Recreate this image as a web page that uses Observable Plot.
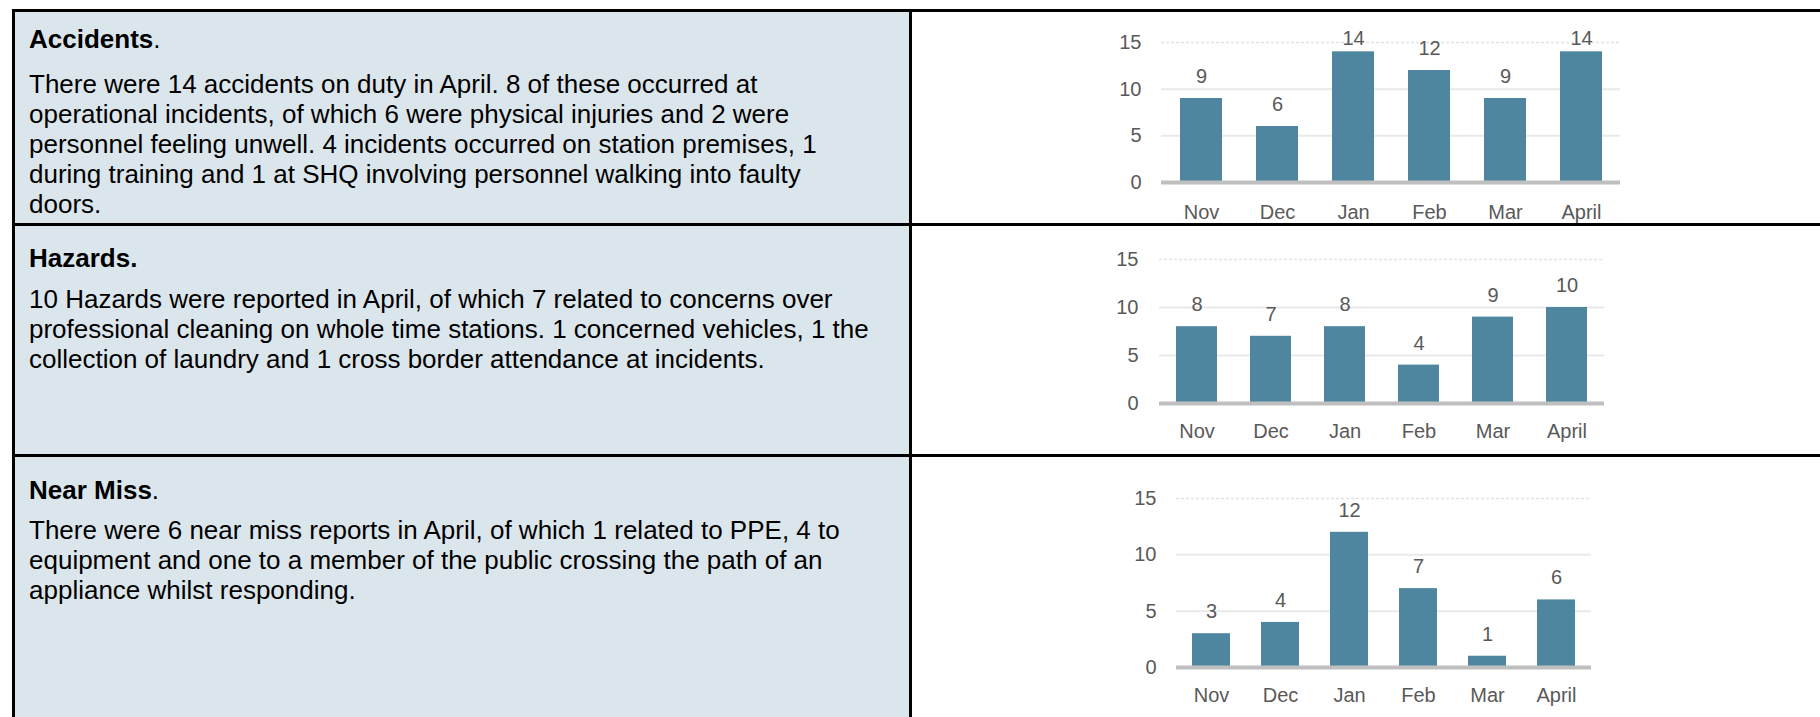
<!DOCTYPE html>
<html>
<head>
<meta charset="utf-8">
<script src="https://cdn.jsdelivr.net/npm/d3@7"></script>
<script src="https://cdn.jsdelivr.net/npm/@observablehq/plot@0.6"></script>
<style>
  html, body { margin:0; padding:0; background:#fff; width:1820px; height:717px; overflow:hidden;
    font-family:"Liberation Sans", Arial, sans-serif; }
  .cell { position:absolute; background:#dbe6ec; }
  .rule { position:absolute; background:#000; }
  .txt { position:absolute; left:29px; font-size:26px; line-height:30px; color:#000; white-space:nowrap; }
  .chart { position:absolute; }
</style>
</head>
<body>
<div id="root"></div>
<script>
// ---- data ----
const months = ["Nov", "Dec", "Jan", "Feb", "Mar", "April"];
const accidents = [9, 6, 14, 12, 9, 14];
const hazards = [8, 7, 8, 4, 9, 10];
const nearMiss = [3, 4, 12, 7, 1, 6];
const yTicks = [0, 5, 10, 15];

const headingBold = ["Accidents", "Hazards.", "Near Miss"];
const headingTail = [".", "", "."];
const accidentsText = [
  "There were 14 accidents on duty in April. 8 of these occurred at",
  "operational incidents, of which 6 were physical injuries and 2 were",
  "personnel feeling unwell. 4 incidents occurred on station premises, 1",
  "during training and 1 at SHQ involving personnel walking into faulty",
  "doors."
];
const hazardsText = [
  "10 Hazards were reported in April, of which 7 related to concerns over",
  "professional cleaning on whole time stations. 1 concerned vehicles, 1 the",
  "collection of laundry and 1 cross border attendance at incidents."
];
const nearMissText = [
  "There were 6 near miss reports in April, of which 1 related to PPE, 4 to",
  "equipment and one to a member of the public crossing the path of an",
  "appliance whilst responding."
];

// ---- layout ----
const root = document.getElementById("root");
function el(cls, css, html) {
  const d = document.createElement("div");
  d.className = cls;
  Object.assign(d.style, css);
  if (html != null) d.innerHTML = html;
  root.appendChild(d);
  return d;
}
// left shaded cells
el("cell", {left:"15px", top:"12px", width:"894px", height:"211px"});
el("cell", {left:"15px", top:"226px", width:"894px", height:"228px"});
el("cell", {left:"15px", top:"457px", width:"894px", height:"260px"});
// borders
el("rule", {left:"12px", top:"9px", width:"1808px", height:"3px"});
el("rule", {left:"12px", top:"223px", width:"1808px", height:"3px"});
el("rule", {left:"12px", top:"454px", width:"1808px", height:"3px"});
el("rule", {left:"12px", top:"9px", width:"3px", height:"708px"});
el("rule", {left:"909px", top:"9px", width:"3px", height:"708px"});

const rows = [
  {headTop: 24, bodyTop: 69, lines: accidentsText},
  {headTop: 243, bodyTop: 284, lines: hazardsText},
  {headTop: 475, bodyTop: 515, lines: nearMissText}
];
rows.forEach((r, i) => {
  el("txt", {top: r.headTop + "px"}, `<b>${headingBold[i]}</b>${headingTail[i]}`);
  r.lines.forEach((t, j) => el("txt", {top: (r.bodyTop + 30 * j) + "px"}, t));
});

// ---- charts ----
function chart(values, box) {
  const data = months.map((m, i) => ({month: m, value: values[i]}));
  const svgLeft = 1060;
  const width = box.x2 - svgLeft + 20;
  const marginTop = box.y15 - box.top;
  const height = marginTop + (box.y0 - box.y15) + 45;
  const p = Plot.plot({
    width, height,
    marginLeft: box.x1 - svgLeft,
    marginRight: 20,
    marginTop,
    marginBottom: 45,
    style: {color: "#595959", fontSize: "20px", fontFamily: "'Liberation Sans', Arial, sans-serif", background: "transparent"},
    x: {domain: months, paddingInner: 0.45, paddingOuter: 0.225, label: null},
    y: {domain: [0, 15], label: null},
    marks: [
      Plot.ruleY([5, 10], {stroke: "#e9e9e9", strokeWidth: 2}),
      Plot.ruleY([15], {stroke: "#e3e3e3", strokeWidth: 1.5, strokeDasharray: "3,2"}),
      Plot.barY(data, {x: "month", y: "value", fill: "#4e86a0"}),
      Plot.ruleY([0], {stroke: "#bfbfbf", strokeWidth: 4}),
      // labels kept inside the plot area, as the spreadsheet does
      Plot.text(data, {x: "month", y: d => Math.min(d.value, box.labelMax), text: d => String(d.value), dy: -22, fontSize: 20, fill: "#595959"}),
      Plot.axisY(yTicks, {tickSize: 0, tickPadding: box.yPad, fontSize: 20, label: null}),
      Plot.axisX({tickSize: 0, tickPadding: box.xPad, fontSize: 20, label: null})
    ]
  });
  p.classList.add("chart");
  p.style.left = svgLeft + "px";
  p.style.top = box.top + "px";
  root.appendChild(p);
}
chart(accidents, {x1: 1161, x2: 1620, y15: 42, y0: 182, top: 13, yPad: 20, xPad: 22, labelMax: 13.1});
chart(hazards, {x1: 1159, x2: 1604, y15: 259, y0: 403, top: 227, yPad: 21, xPad: 20, labelMax: 15});
chart(nearMiss, {x1: 1176, x2: 1591, y15: 498, y0: 667, top: 458, yPad: 20, xPad: 20, labelMax: 15});
</script>
</body>
</html>
